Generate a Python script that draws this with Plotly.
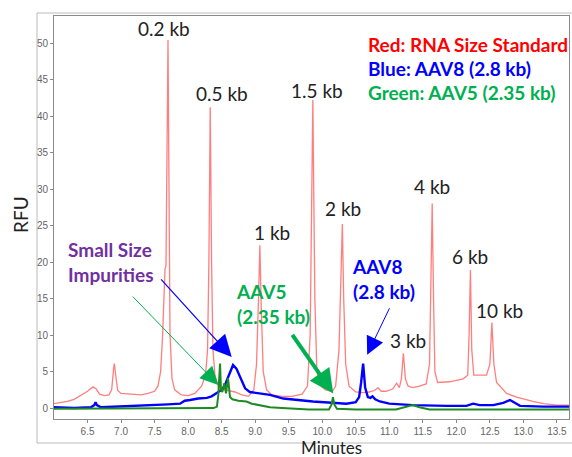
import plotly.graph_objects as go

# ---------------- data ----------------
red_x = [6.00, 6.10, 6.20, 6.30, 6.40, 6.50, 6.58, 6.63, 6.68, 6.75, 6.82, 6.86, 6.89, 6.90, 6.92, 6.95,
         7.00, 7.10, 7.20, 7.30, 7.40, 7.50, 7.55, 7.59, 7.62, 7.64, 7.655, 7.67, 7.69, 7.70, 7.715, 7.73,
         7.76, 7.80, 7.90, 8.00, 8.10, 8.20, 8.26, 8.29, 8.31, 8.33, 8.35, 8.37, 8.40, 8.45, 8.50, 8.60,
         8.70, 8.80, 8.90, 8.98, 9.02, 9.05, 9.07, 9.09, 9.12, 9.17, 9.25, 9.40, 9.55, 9.70, 9.78, 9.82,
         9.86, 9.89, 9.92, 9.98, 10.05, 10.15, 10.20, 10.25, 10.28, 10.30, 10.32, 10.35, 10.40, 10.50,
         10.60, 10.70, 10.78, 10.83, 10.88, 10.95, 11.05, 11.11, 11.15, 11.18, 11.21, 11.24, 11.28, 11.35,
         11.45, 11.55, 11.60, 11.62, 11.64, 11.66, 11.68, 11.72, 11.80, 11.90, 12.00, 12.10, 12.17, 12.19,
         12.21, 12.23, 12.26, 12.35, 12.45, 12.50, 12.53, 12.56, 12.60, 12.75, 12.90, 13.14, 13.30, 13.50,
         13.68]
red_y = [0.6, 0.7, 0.9, 1.2, 1.7, 2.3, 2.9, 2.6, 1.9, 1.7, 1.8, 2.5, 5.5, 6.1, 4.5, 2.4,
         2.0, 1.9, 1.8, 1.8, 2.0, 2.3, 3.0, 5.0, 10.0, 17.0, 19.0, 19.5, 40.0, 50.4, 30.0, 10.0,
         4.0, 2.5, 1.8, 1.7, 2.0, 3.0, 4.5, 8.0, 20.0, 41.2, 20.0, 8.0, 4.5, 3.0, 2.6, 2.4,
         2.2, 1.8, 1.6, 2.5, 6.0, 15.0, 22.3, 14.0, 5.0, 2.5, 1.8, 1.6, 1.6, 1.9, 3.0, 10.0,
         42.2, 15.0, 5.0, 3.0, 2.5, 2.3, 3.0, 8.0, 18.0, 25.2, 15.0, 6.0, 3.0, 2.2,
         2.1, 2.2, 2.4, 2.8, 2.3, 2.3, 2.6, 3.4, 2.8, 4.0, 7.5, 4.0, 3.0, 2.8,
         3.0, 3.3, 6.0, 15.0, 28.0, 15.0, 5.0, 3.5, 3.5, 3.6, 3.8, 4.0, 4.5, 10.0,
         18.9, 8.0, 4.5, 4.5, 4.5, 6.0, 11.7, 6.0, 3.5, 2.0, 1.5, 0.9, 0.6, 0.4,
         0.4]

blue_x = [6.00, 6.30, 6.55, 6.60, 6.62, 6.64, 6.70, 7.00, 7.43, 7.70, 7.88, 7.95, 8.03, 8.15, 8.28,
          8.35, 8.45, 8.52, 8.56, 8.60, 8.625, 8.67, 8.72, 8.77, 8.85, 8.92, 9.05, 9.22, 9.42, 9.86,
          10.20, 10.36, 10.50, 10.55, 10.58, 10.61, 10.64, 10.68, 10.72, 10.75, 10.79, 10.86, 11.00,
          11.35, 11.86, 12.15, 12.25, 12.35, 12.55, 12.70, 12.80, 12.88, 12.95, 13.30, 13.68]
blue_y = [0.1, 0.0, 0.1, 0.4, 0.8, 0.4, 0.1, 0.2, 0.4, 0.5, 0.6, 1.0, 1.1, 1.3, 1.4,
          1.6, 2.2, 2.7, 3.4, 4.3, 4.75, 5.9, 5.4, 4.3, 2.7, 2.2, 2.0, 1.8, 1.3, 0.9,
          0.7, 0.6, 0.8, 1.5, 3.5, 6.1, 2.8, 1.5, 1.4, 1.6, 1.2, 0.9, 0.6,
          0.4, 0.3, 0.3, 0.6, 0.4, 0.4, 0.7, 1.1, 0.7, 0.3, 0.2, 0.2]

green_x = [6.00, 7.00, 8.00, 8.38, 8.43, 8.45, 8.476, 8.49, 8.51, 8.54, 8.565, 8.595, 8.625, 8.66,
           8.75, 8.87, 8.95, 9.10, 9.22, 9.40, 9.80, 10.10, 10.14, 10.16, 10.18, 10.22, 10.50,
           11.10, 11.25, 11.35, 11.45, 11.60, 13.68]
green_y = [-0.1, -0.1, -0.1, 0.0, 0.2, 1.8, 6.1, 2.5, 2.2, 3.4, 2.0, 4.1, 1.5, 1.2,
           1.0, 0.9, 0.6, 0.3, 0.1, 0.0, -0.2, -0.2, 0.5, 1.5, 0.5, -0.1, -0.2,
           -0.2, 0.1, 0.4, 0.1, -0.2, -0.2]

peak_labels = ["0.2 kb", "0.5 kb", "1 kb", "1.5 kb", "2 kb", "3 kb", "4 kb", "6 kb", "10 kb"]
peak_label_x = [7.64, 8.505, 9.25, 9.92, 10.31, 11.28, 11.64, 12.20, 12.64]
peak_label_y = [52.0, 43.1, 24.1, 43.5, 27.4, 9.3, 30.4, 20.7, 13.4]

x_ticks = [6.5, 7.0, 7.5, 8.0, 8.5, 9.0, 9.5, 10.0, 10.5, 11.0, 11.5, 12.0, 12.5, 13.0, 13.5]
y_ticks = [0, 5, 10, 15, 20, 25, 30, 35, 40, 45, 50]

legend_lines = ["Red: RNA Size Standard", "Blue: AAV8 (2.8 kb)", "Green: AAV5 (2.35 kb)"]

# ---------------- layout helpers ----------------
W, H = 572, 457
L, R, T, B = 54, 3, 16, 38
PW, PH = W - L - R, H - T - B


def px(xp):
    return (xp - L) / PW


def py(yp):
    return (H - B - yp) / PH


FONT = "Lato, 'Open Sans', sans-serif"
BOLD = 19

fig = go.Figure()
fig.add_trace(go.Scatter(x=red_x, y=red_y, mode="lines",
                         line=dict(color="rgba(255,40,40,0.6)", width=1.3), hoverinfo="skip"))
fig.add_trace(go.Scatter(x=blue_x, y=blue_y, mode="lines",
                         line=dict(color="#0000FF", width=2.4), hoverinfo="skip"))
fig.add_trace(go.Scatter(x=green_x, y=green_y, mode="lines",
                         line=dict(color="#1E8A24", width=2.0), hoverinfo="skip"))

ann = []
for t, xv, yv in zip(peak_labels, peak_label_x, peak_label_y):
    ann.append(dict(x=xv, y=yv, xref="x", yref="y", text=t, showarrow=False,
                    xanchor="center", yanchor="middle",
                    font=dict(family=FONT, size=19, color="#222222")))

legend_colors = ["#FF0000", "#0000FF", "#00B050"]
legend_y = [44, 68, 92]
for t, c, yp in zip(legend_lines, legend_colors, legend_y):
    ann.append(dict(x=px(366), y=py(yp), xref="paper", yref="paper", text="<b>%s</b>" % t,
                    showarrow=False, xanchor="left", yanchor="middle",
                    font=dict(family=FONT, size=BOLD, color=c)))

ann.append(dict(x=px(66), y=py(262), xref="paper", yref="paper", text="<b>Small Size<br>Impurities</b>",
                showarrow=False, xanchor="left", yanchor="middle", align="left",
                font=dict(family=FONT, size=BOLD, color="#7030A0")))
ann.append(dict(x=px(234), y=py(304), xref="paper", yref="paper", text="<b>AAV5<br>(2.35 kb)</b>",
                showarrow=False, xanchor="left", yanchor="middle", align="left",
                font=dict(family=FONT, size=BOLD, color="#00B050")))
ann.append(dict(x=px(350), y=py(279), xref="paper", yref="paper", text="<b>AAV8<br>(2.8 kb)</b>",
                showarrow=False, xanchor="left", yanchor="middle", align="left",
                font=dict(family=FONT, size=BOLD, color="#0000FF")))

# arrows: head in data coordinates, tail offset in pixels
ann.append(dict(x=8.65, y=7.0, xref="x", yref="y", ax=-72, ay=-79, text="", showarrow=True,
                arrowhead=2, arrowsize=3.6, arrowwidth=1.2, arrowcolor="#0000FF", standoff=0))
ann.append(dict(x=8.45, y=3.15, xref="x", yref="y", ax=-87, ay=-90, text="", showarrow=True,
                arrowhead=2, arrowsize=3.6, arrowwidth=1.0, arrowcolor="#00B050", standoff=0))
ann.append(dict(x=10.165, y=2.0, xref="x", yref="y", ax=-42, ay=-60, text="", showarrow=True,
                arrowhead=2, arrowsize=1.2, arrowwidth=4, arrowcolor="#00B050", standoff=0))
ann.append(dict(x=10.67, y=7.3, xref="x", yref="y", ax=23, ay=-48, text="", showarrow=True,
                arrowhead=2, arrowsize=3.6, arrowwidth=1.0, arrowcolor="#0000FF", standoff=0))

ann.append(dict(x=px(20), y=py(215), xref="paper", yref="paper", text="RFU", textangle=-90,
                xanchor="center", yanchor="middle",
                showarrow=False, font=dict(family=FONT, size=19, color="#222222")))
ann.append(dict(x=px(331), y=py(447), xref="paper", yref="paper", text="Minutes",
                xanchor="center", yanchor="middle", borderpad=0,
                showarrow=False, font=dict(family=FONT, size=17, color="#222222")))

fig.update_layout(
    width=W, height=H, autosize=False,
    margin=dict(l=L, r=R, t=T, b=B),
    paper_bgcolor="white", plot_bgcolor="white",
    showlegend=False,
    annotations=ann,
    shapes=[dict(type="rect", xref="paper", yref="paper",
                 x0=px(37), x1=px(600), y0=py(443), y1=py(13),
                 line=dict(color="#BBBBBB", width=1), layer="below")],
)
fig.update_xaxes(range=[6.0, 13.68], tickvals=x_ticks, ticktext=["%.1f" % v for v in x_ticks],
                 showgrid=False, zeroline=False, showline=True, mirror=True, linecolor="#8A8A8A",
                 linewidth=1, ticks="outside", ticklen=3, tickcolor="#8A8A8A",
                 tickfont=dict(family="Liberation Sans, Arial", size=10, color="#666666"))
fig.update_yaxes(range=[-1.5, 53.7], tickvals=y_ticks, showgrid=False, zeroline=False,
                 showline=True, mirror=True, linecolor="#8A8A8A", linewidth=1,
                 ticks="outside", ticklen=3, tickcolor="#8A8A8A",
                 tickfont=dict(family="Liberation Sans, Arial", size=10, color="#666666"))

fig.write_html("out.html", config={"displayModeBar": False},
               post_script="document.body.style.margin='0';document.body.style.overflow='hidden';")
